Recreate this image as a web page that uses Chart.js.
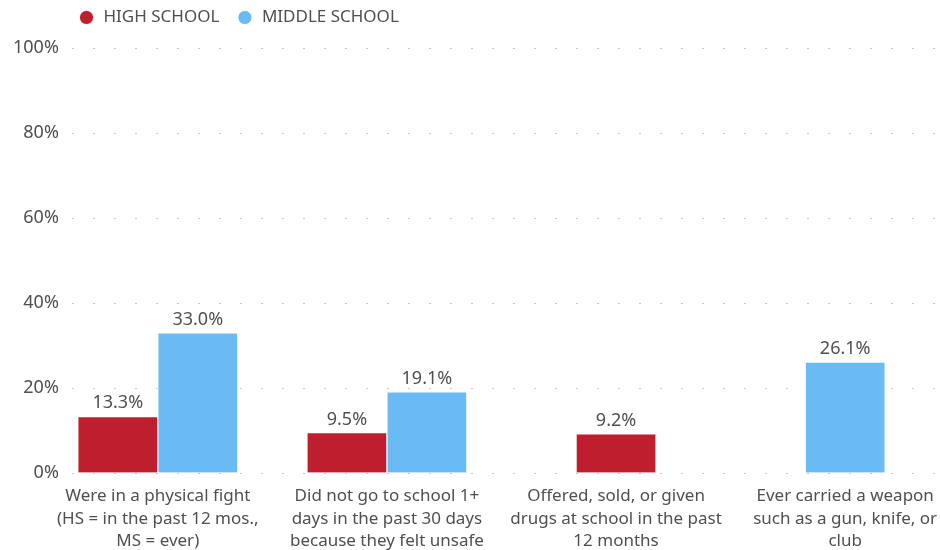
<!DOCTYPE html>
<html>
<head>
<meta charset="utf-8">
<script src="https://cdn.jsdelivr.net/npm/chart.js@4"></script>
<style>
  html, body { margin: 0; padding: 0; background: #fff; }
  #wrap { width: 940px; height: 550px; }
</style>
</head>
<body>
<div id="wrap"><canvas id="safetyChart"></canvas></div>
<script>
// Survey categories (wrapped into lines for the axis)
const categories = [
  ['Were in a physical fight', '(HS = in the past 12 mos.,', 'MS = ever)'],
  ['Did not go to school 1+', 'days in the past 30 days', 'because they felt unsafe'],
  ['Offered, sold, or given', 'drugs at school in the past', '12 months'],
  ['Ever carried a weapon', 'such as a gun, knife, or', 'club']
];
const highSchool = [13.3, 9.5, 9.2, null];
const middleSchool = [33.0, 19.1, null, 26.1];
const yTicks = [0, 20, 40, 60, 80, 100];

const FONT = "'Noto Sans', sans-serif";
const TEXT = '#505050';

function toPoints(values) {
  return values.map((v, i) => ({ x: i, y: v }));
}

// Writes the percentage above every bar
const valueLabels = {
  id: 'valueLabels',
  afterDatasetsDraw(chart) {
    const ctx = chart.ctx;
    ctx.save();
    ctx.font = '18px ' + FONT;
    ctx.fillStyle = TEXT;
    ctx.textAlign = 'center';
    ctx.textBaseline = 'alphabetic';
    chart.data.datasets.forEach((ds, di) => {
      chart.getDatasetMeta(di).data.forEach((bar, i) => {
        const v = ds.data[i].y;
        if (v == null) return;
        ctx.fillText(v.toFixed(1) + '%', bar.x, bar.y - 8);
      });
    });
    ctx.restore();
  }
};

// Legend sits in the top-left corner with extra room below it
const legendPlacement = {
  id: 'legendPlacement',
  beforeInit(chart) {
    const legend = chart.legend;
    const fit = legend.fit.bind(legend);
    legend.fit = function () {
      fit();
      this.height = 48;
    };
  },
  afterLayout(chart) {
    chart.legend.left += 61;
    chart.legend.top -= 8;
  }
};

new Chart(document.getElementById('safetyChart'), {
  type: 'bar',
  data: {
    datasets: [
      {
        label: 'HIGH SCHOOL',
        data: toPoints(highSchool),
        backgroundColor: '#BE1E2D',
        borderColor: '#ffffff',
        borderWidth: 1
      },
      {
        label: 'MIDDLE SCHOOL',
        data: toPoints(middleSchool),
        backgroundColor: '#6ABBF3',
        borderColor: '#ffffff',
        borderWidth: 1
      }
    ]
  },
  plugins: [valueLabels, legendPlacement],
  options: {
    responsive: true,
    maintainAspectRatio: false,
    animation: false,
    skipNull: true,
    barThickness: 80,
    layout: { padding: { left: 0, right: 5, top: 0, bottom: -14.5 } },
    plugins: {
      tooltip: { enabled: false },
      legend: {
        position: 'top',
        align: 'start',
        labels: {
          usePointStyle: true,
          pointStyle: 'circle',
          boxWidth: 17,
          boxHeight: 10,
          padding: 17,
          color: TEXT,
          font: { family: FONT, size: 17 }
        }
      }
    },
    scales: {
      x: {
        type: 'linear',
        offset: false,
        min: -0.375,
        max: 3.392,
        grid: { display: false, offset: false, drawTicks: false },
        border: { display: false },
        afterBuildTicks(axis) {
          axis.ticks = categories.map((c, i) => ({ value: i }));
        },
        afterFit(axis) {
          axis.paddingLeft = 0;
          axis.paddingRight = 0;
        },
        ticks: {
          autoSkip: false,
          maxRotation: 0,
          padding: 12,
          color: TEXT,
          font: { family: FONT, size: 17, lineHeight: '22.5px' },
          callback: (value) => categories[value] || ''
        }
      },
      y: {
        min: 0,
        max: 100,
        afterBuildTicks(axis) {
          axis.ticks = yTicks.map(v => ({ value: v }));
        },
        border: { display: false, dash: [2, 19] },
        grid: { color: '#c8c8c8', lineWidth: 1, drawTicks: false },
        ticks: {
          padding: 13,
          color: TEXT,
          font: { family: FONT, size: 18 },
          callback: (v) => v + '%'
        }
      }
    }
  }
});
</script>
</body>
</html>
